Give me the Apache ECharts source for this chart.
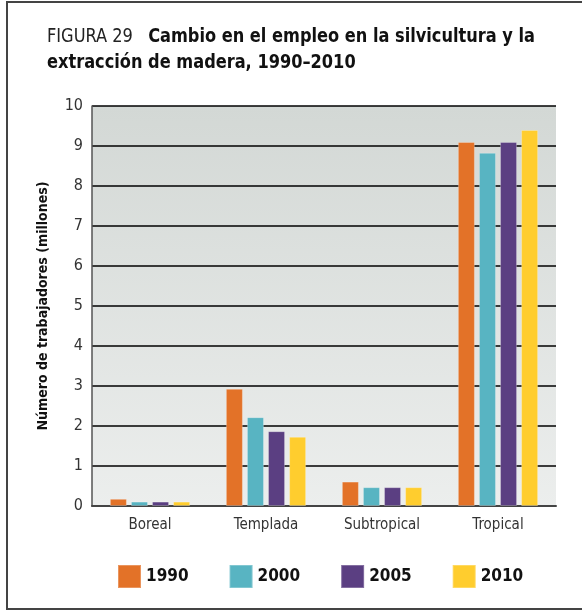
<!DOCTYPE html>
<html>
<head>
<meta charset="utf-8">
<script src="https://cdn.jsdelivr.net/npm/echarts@6/dist/echarts.min.js"></script>
<style>
  html, body { margin: 0; padding: 0; background: #fff; }
  #chart { width: 582px; height: 613px; }
</style>
</head>
<body>
<div id="chart"></div>
<script>
// data (millions of workers)
var categories = ['Boreal', 'Templada', 'Subtropical', 'Tropical'];
var years = ['1990', '2000', '2005', '2010'];
var values1990 = [0.18, 2.93, 0.61, 9.1];
var values2000 = [0.11, 2.22, 0.47, 8.83];
var values2005 = [0.11, 1.87, 0.47, 9.1];
var values2010 = [0.11, 1.73, 0.47, 9.4];
var colors = ['#E37228', '#58B4C2', '#5B3F82', '#FFCD2E'];

var font = '"DejaVu Sans Condensed", sans-serif';
var chart = echarts.init(document.getElementById('chart'));

var allValues = [values1990, values2000, values2005, values2010];
var series = years.map(function (y, i) {
    return {
        name: y,
        type: 'bar',
        data: allValues[i],
        barWidth: 17,
        barGap: '24%',
        itemStyle: { color: colors[i], borderColor: 'rgba(255,255,255,0.25)', borderWidth: 1 }
    };
});

var option = {
    animation: false,
    color: colors,
    textStyle: { fontFamily: font },
    graphic: [{
        type: 'rect',
        shape: { x: 7, y: 2, width: 620, height: 607 },
        style: { fill: 'none', stroke: '#444', lineWidth: 2 },
        silent: true
    }, {
        // title, squeezed a bit to look like the condensed print font
        type: 'text',
        x: 47,
        y: 24,
        scaleX: 0.9,
        silent: true,
        style: {
            text: '{a|FIGURA 29}{b|Cambio en el empleo en la silvicultura y la}\n{b|extracción de madera, 1990–2010}',
            rich: {
                a: { fontFamily: font, fontSize: 20, fontWeight: 'normal', fill: '#222', lineHeight: 26, padding: [0, 17, 0, 0] },
                b: { fontFamily: font, fontSize: 20, fontWeight: 'bold', fill: '#111', lineHeight: 26 }
            }
        }
    }],
    legend: {
        data: years,
        left: 117,
        top: 564,
        padding: 0,
        itemWidth: 23,
        itemHeight: 23,
        itemGap: 40,
        icon: 'rect',
        textStyle: { fontFamily: font, fontSize: 17, fontWeight: 'bold', color: '#111' }
    },
    grid: {
        left: 92,
        right: 26,
        top: 106,
        bottom: 107,
        show: true,
        borderWidth: 0,
        backgroundColor: new echarts.graphic.LinearGradient(0, 0, 0, 1, [
            { offset: 0, color: '#d3d8d5' },
            { offset: 1, color: '#eceeed' }
        ])
    },
    xAxis: {
        type: 'category',
        data: categories,
        axisLine: { lineStyle: { color: '#444', width: 2 } },
        axisTick: { show: false },
        axisLabel: { fontFamily: font, fontSize: 15, color: '#333', margin: 12 }
    },
    yAxis: {
        type: 'value',
        min: 0,
        max: 10,
        interval: 1,
        name: 'Número de trabajadores (millones)',
        nameLocation: 'middle',
        nameGap: 42,
        nameTextStyle: { fontFamily: font, fontSize: 14, fontWeight: 'bold', color: '#111' },
        axisLine: { show: true, lineStyle: { color: '#555', width: 1.5 } },
        axisTick: { show: false },
        axisLabel: { fontFamily: font, fontSize: 16, color: '#333', margin: 9 },
        splitLine: { lineStyle: { color: '#000', width: 1.5 } }
    },
    series: series
};

chart.setOption(option);
</script>
</body>
</html>
